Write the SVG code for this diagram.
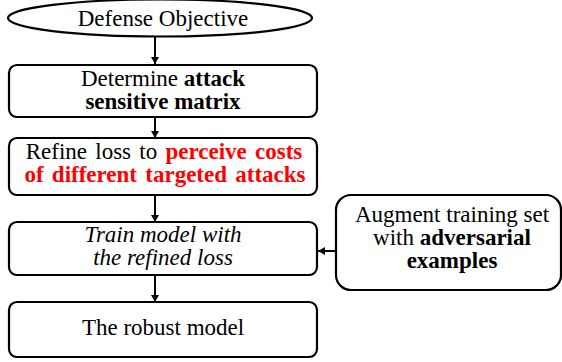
<svg xmlns="http://www.w3.org/2000/svg" width="562" height="362" viewBox="0 0 562 362">
<defs>
<marker id="ah" markerWidth="8" markerHeight="8" refX="7" refY="4" orient="auto" markerUnits="userSpaceOnUse">
<path d="M0,0 L7,4 L0,8 Z" fill="#000"/>
</marker>
</defs>
<rect width="562" height="362" fill="#fff"/>
<g id="connectors" stroke="#000" stroke-width="2" fill="none" marker-end="url(#ah)">
<line x1="155" y1="37" x2="155" y2="64"/>
<line x1="155" y1="117" x2="155" y2="138"/>
<line x1="155" y1="195" x2="155" y2="222"/>
<line x1="155" y1="275" x2="155" y2="302"/>
<line x1="336" y1="251" x2="318" y2="251"/>
</g>
<g id="nodes">
<g id="objective">
<ellipse cx="160" cy="18" rx="152" ry="18.5" fill="#fff" stroke="#000" stroke-width="2.2"/>
<text x="163" y="26" font-family="Liberation Serif" font-size="23" text-anchor="middle">Defense Objective</text>
</g>
<g id="matrix">
<rect x="9" y="65" width="308" height="52" rx="8" fill="#fff" stroke="#000" stroke-width="2.2"/>
<text x="163" y="86" font-family="Liberation Serif" font-size="23" text-anchor="middle">Determine <tspan font-weight="bold">attack</tspan></text>
<text x="163" y="109" font-family="Liberation Serif" font-size="23" text-anchor="middle" font-weight="bold">sensitive matrix</text>
</g>
<g id="refine">
<rect x="9" y="138" width="308" height="57" rx="8" fill="#fff" stroke="#000" stroke-width="2.2"/>
<text x="164" y="159" font-family="Liberation Serif" font-size="23" text-anchor="middle" word-spacing="2.5">Refine loss to <tspan font-weight="bold" fill="#ff0000">perceive costs</tspan></text>
<text x="165" y="182" font-family="Liberation Serif" font-size="23" text-anchor="middle" word-spacing="2.5" font-weight="bold" fill="#ff0000">of different targeted attacks</text>
</g>
<g id="train">
<rect x="9" y="222" width="308" height="53" rx="8" fill="#fff" stroke="#000" stroke-width="2.2"/>
<text x="163" y="242" font-family="Liberation Serif" font-size="23" text-anchor="middle" font-style="italic">Train model with</text>
<text x="163" y="265" font-family="Liberation Serif" font-size="23" text-anchor="middle" font-style="italic">the refined loss</text>
</g>
<g id="robust">
<rect x="9" y="302" width="308" height="55" rx="8" fill="#fff" stroke="#000" stroke-width="2.2"/>
<text x="163" y="335" font-family="Liberation Serif" font-size="23" text-anchor="middle">The robust model</text>
</g>
<g id="augment">
<rect x="336" y="195" width="225" height="95" rx="15" fill="#fff" stroke="#000" stroke-width="2.2"/>
<text x="452" y="222" font-family="Liberation Serif" font-size="23" text-anchor="middle">Augment training set</text>
<text x="452" y="245" font-family="Liberation Serif" font-size="23" text-anchor="middle">with <tspan font-weight="bold">adversarial</tspan></text>
<text x="452" y="268" font-family="Liberation Serif" font-size="23" text-anchor="middle" font-weight="bold">examples</text>
</g>
</g>
</svg>
